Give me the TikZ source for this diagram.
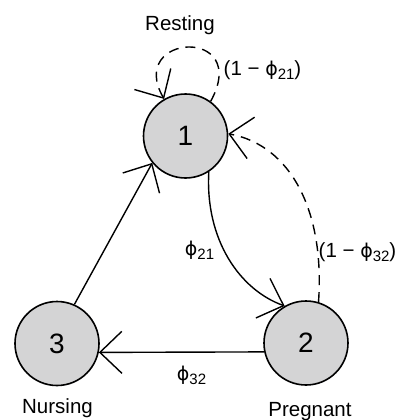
\documentclass[tikz,border=0pt]{standalone}
\usepackage{fontspec}
\setmainfont{Liberation Sans}
\newfontfamily\phifont{DejaVu Sans}
\usetikzlibrary{arrows.meta}
\begin{document}
\begin{tikzpicture}[x=1pt,y=-1pt,
  state/.style={circle,draw,line width=1.6pt,fill=stategray,minimum size=84pt,inner sep=0pt,font=\fontsize{28}{28}\selectfont},
  conn/.style={line width=1.4pt,-{Straight Barb[length=22pt,width=42pt,line cap=butt,line join=miter]}},
  dashline/.style={dash pattern=on 10pt off 7pt},
  lbl/.style={font=\fontsize{20.5}{22}\selectfont,inner sep=0pt},
]
\definecolor{stategray}{RGB}{212,212,213}
\useasboundingbox (0,0) rectangle (396,420);
\newcommand{\phisub}[1]{{\phifont\fontsize{19}{19}\selectfont ϕ}\raisebox{-0.2em}{\fontsize{15}{15}\selectfont #1}}
\node[state] (n1) at (185.5,136) {1};
\node[state] (n3) at (57,343.5) {3};
\node[state] (n2) at (306,343) {2};
\node[lbl,anchor=base] (rest) at (180,31) {Resting};
\node[lbl,anchor=base] (nurs) at (57.5,413) {Nursing};
\node[lbl,anchor=base] (preg) at (310,416) {Pregnant};
\node[lbl] (l11) at (262.5,70) {(1 − \phisub{21})};
\node[lbl] (l21) at (199.5,250) {\phisub{21}};
\node[lbl] (l12) at (357.5,252) {(1 − \phisub{32})};
\node[lbl] (l32) at (191.5,375) {\phisub{32}};
% self loop
\draw[conn,dashline] (n1.54) .. controls (252,26) and (126,33) .. (n1.120);
% 2 -> 1 dashed
\draw[conn,dashline] (n2.73) .. controls (325,210) and (290,145) .. (n1.3);
% 1 -> 2
\draw[conn] (n1.-57) .. controls (205,240) and (240,290) .. (n2.120);
% 3 -> 1
\draw[conn] (n3.66) -- (n1.219);
% 2 -> 3
\draw[conn] (n2.192) -- (n3.-12);
\end{tikzpicture}
\end{document}
